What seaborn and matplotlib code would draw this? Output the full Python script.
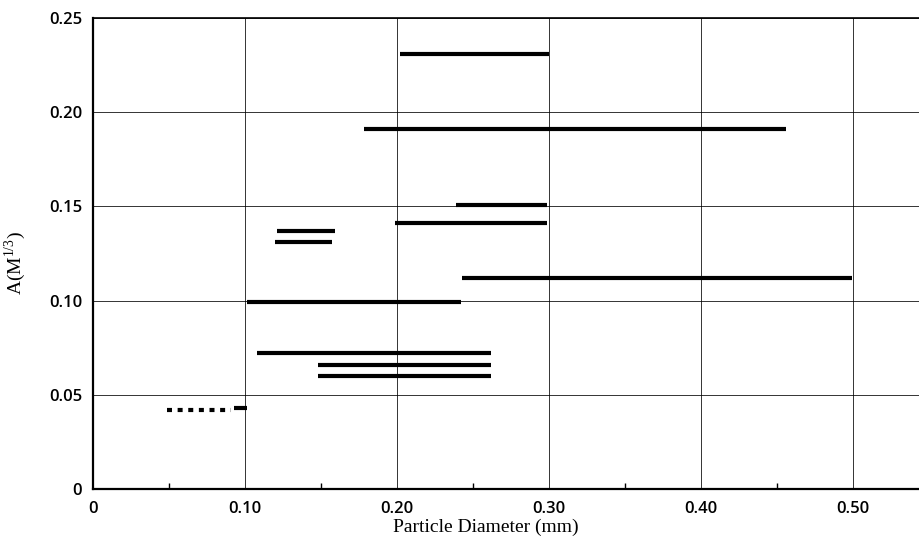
"""Particle diameter ranges vs. A(M^1/3) - horizontal range segments."""

import numpy as np
import pandas as pd
import matplotlib.pyplot as plt
import seaborn as sns
from matplotlib.ticker import MultipleLocator

# one segment per row: A value and the diameter range it covers (mm)
seg_a = [0.231, 0.191, 0.151, 0.141, 0.137, 0.131, 0.112, 0.099, 0.072, 0.066, 0.060, 0.043]
seg_start = [0.202, 0.178, 0.239, 0.199, 0.121, 0.120, 0.243, 0.101, 0.108, 0.148, 0.148, 0.093]
seg_end = [0.300, 0.456, 0.299, 0.299, 0.159, 0.157, 0.499, 0.242, 0.262, 0.262, 0.262, 0.101]

# extrapolated (dotted) part of the smallest range
dot_a = [0.042]
dot_start = [0.049]
dot_end = [0.091]

x_ticks = [0, 0.10, 0.20, 0.30, 0.40, 0.50]
x_labels = ["0", "0.10", "0.20", "0.30", "0.40", "0.50"]
y_ticks = [0, 0.05, 0.10, 0.15, 0.20, 0.25]
y_labels = ["0", "0.05", "0.10", "0.15", "0.20", "0.25"]


def to_long(a, start, end):
    rows = []
    for i, (y, x0, x1) in enumerate(zip(a, start, end)):
        rows.append({"seg": i, "d": x0, "A": y})
        rows.append({"seg": i, "d": x1, "A": y})
    return pd.DataFrame(rows)


solid = to_long(seg_a, seg_start, seg_end)
dotted = to_long(dot_a, dot_start, dot_end)

sns.set_theme(style="white")
plt.rcParams["font.family"] = ["DejaVu Sans"]

fig = plt.figure(figsize=(9.19, 5.39), dpi=100)
ax = fig.add_axes([0.1012, 0.0928, 0.8988, 0.8738])

sns.lineplot(data=solid, x="d", y="A", units="seg", estimator=None,
             color="black", linewidth=3.0, ax=ax, solid_capstyle="butt")
sns.lineplot(data=dotted, x="d", y="A", units="seg", estimator=None,
             color="black", linewidth=3.0, ax=ax,
             linestyle=(0, (1.2, 1.35)), dash_capstyle="butt")

ax.set_xlim(0, 0.5434)
ax.set_ylim(0, 0.25)

ax.set_xticks(x_ticks)
ax.set_xticklabels(x_labels)
ax.set_yticks(y_ticks)
ax.set_yticklabels(y_labels)
ax.xaxis.set_minor_locator(MultipleLocator(0.05))

for lbl in ax.get_xticklabels() + ax.get_yticklabels():
    lbl.set_fontfamily("Open Sans")
    lbl.set_fontweight("semibold")
    lbl.set_fontsize(12)
    lbl.set_color("black")

ax.tick_params(axis="both", which="major", length=0, pad=8)
ax.tick_params(axis="x", which="major", pad=9)
ax.tick_params(axis="x", which="minor", direction="in", length=4,
               width=1.0, color="black", bottom=True)

ax.grid(True, which="major", color="black", linewidth=0.7, alpha=0.8)

for side in ["left", "bottom"]:
    ax.spines[side].set_linewidth(1.6)
    ax.spines[side].set_color("black")
ax.spines["top"].set_linewidth(1.2)
ax.spines["top"].set_color("black")
ax.spines["right"].set_visible(False)

ax.set_xlabel("Particle Diameter (mm)", fontsize=14,
              family="Liberation Serif", color="black")
ax.set_ylabel(r"A(M$^{\mathregular{1/3}}$)", fontsize=14,
              family="Liberation Serif", color="black")
ax.xaxis.set_label_coords(0.475, -0.064)
ax.yaxis.set_label_coords(-0.079, 0.48)

fig.savefig("out.png", dpi=100)
